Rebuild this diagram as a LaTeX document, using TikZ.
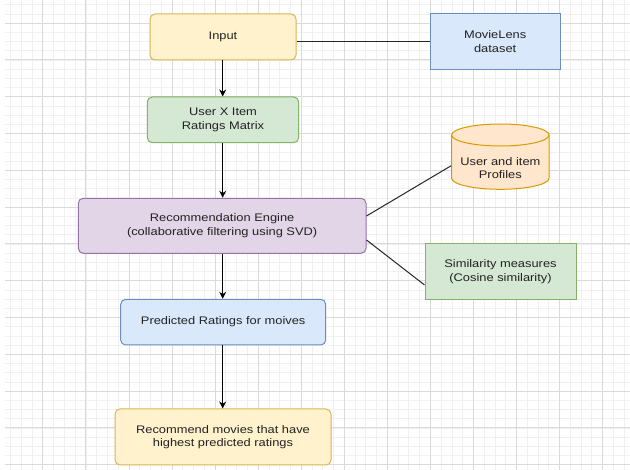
\documentclass[tikz,border=0pt]{standalone}
\usepackage{fontspec}
\setmainfont{Liberation Sans}[FakeStretch=1.17]
\usetikzlibrary{arrows.meta,calc}
\definecolor{yelF}{HTML}{FFF2CC}\definecolor{yelD}{HTML}{D6B656}
\definecolor{grnF}{HTML}{D5E8D4}\definecolor{grnD}{HTML}{82B366}
\definecolor{purF}{HTML}{E1D5E7}\definecolor{purD}{HTML}{9673A6}
\definecolor{bluF}{HTML}{DAE8FC}\definecolor{bluD}{HTML}{6C8EBF}
\definecolor{orgF}{HTML}{FFE6CC}\definecolor{orgD}{HTML}{D79B00}
\definecolor{gridMaj}{HTML}{DADADA}\definecolor{gridMin}{HTML}{F0F0F0}
\definecolor{txt}{HTML}{222222}
\begin{document}
\begin{tikzpicture}[x=1pt,y=-1pt,
  every node/.style={font=\fontsize{11}{13.3}\selectfont, text=txt, align=center, inner sep=0pt},
  boxbase/.style={draw, line width=1pt},
  rbox/.style={boxbase, rounded corners=5pt},
  yel/.style={fill=yelF, draw=yelD},
  grn/.style={fill=grnF, draw=grnD},
  pur/.style={fill=purF, draw=purD},
  blu/.style={fill=bluF, draw=bluD},
  arr/.style={draw=black, line width=1pt, -{Stealth[length=7pt,width=7pt]}},
  lnk/.style={draw=black!85, line width=1pt}]
\useasboundingbox (0,0) rectangle (630,470);
\fill[white] (0,0) rectangle (630,470);
% grid
\foreach \k in {0,...,57} \draw[gridMin, line width=0.5pt] ({10.4+10.765*\k},0) -- ({10.4+10.765*\k},470);
\foreach \k in {0,...,50} \draw[gridMin, line width=0.5pt] (5,{4.6+9.2*\k}) -- (630,{4.6+9.2*\k});
\foreach \k in {0,...,13} \draw[gridMaj, line width=0.6pt] ({42.7+43.06*\k},0) -- ({42.7+43.06*\k},470);
\foreach \k in {0,...,12} \draw[gridMaj, line width=0.6pt] (5,{23+36.8*\k}) -- (630,{23+36.8*\k});
% nodes
\node[rbox, yel, minimum width=146pt, minimum height=46pt] (input) at (223,37) {Input};
\node[boxbase, blu, minimum width=129.7pt, minimum height=55.3pt] (ml) at (495.15,41.65) {MovieLens\\dataset};
\node[rbox, grn, minimum width=151.4pt, minimum height=45.7pt] (uxi) at (223,119.85) {User X Item\\Ratings Matrix};
\node[rbox, pur, minimum width=287.7pt, minimum height=55pt] (rec) at (222.15,225.8) {Recommendation Engine\\(collaborative filtering using SVD)};
\node[boxbase, grn, minimum width=151pt, minimum height=55.3pt] (sim) at (500.5,271.65) {Similarity measures\\(Cosine similarity)};
\node[rbox, blu, minimum width=205pt, minimum height=45.7pt] (pred) at (223.2,322.15) {Predicted Ratings for moives};
\node[rbox, yel, minimum width=216pt, minimum height=56pt] (recm) at (223,437) {Recommend movies that have\\highest predicted ratings};
% cylinder
\fill[orgF] (451.7,135) -- (451.7,178.3) arc[start angle=180, end angle=360, x radius=48.65, y radius=-11] -- (549,135) -- cycle;
\draw[orgD, line width=1pt] (451.7,135) -- (451.7,178.3) arc[start angle=180, end angle=360, x radius=48.65, y radius=-11] -- (549,135);
\draw[orgD, fill=orgF, line width=1pt] (500.35,135) ellipse[x radius=48.65, y radius=11];
\node[minimum width=97.3pt, minimum height=43pt] (prof) at (500.35,168) {User and item\\Profiles};
% connectors
\draw[lnk] (input.east |- ml.west) -- (ml.west);
\draw[arr] (input.south -| 222.7,0) -- (uxi.north -| 222.7,0);
\draw[arr] (uxi.south -| 222.7,0) -- (rec.north -| 222.7,0);
\draw[arr] (rec.south -| 222.7,0) -- (pred.north -| 222.7,0);
\draw[arr] (pred.south -| 222.7,0) -- (recm.north -| 222.7,0);
\draw[lnk] ([yshift=9.8pt]rec.east) -- ([xshift=-0.3pt,yshift=2.3pt]prof.west);
\draw[lnk] ([yshift=-14.2pt]rec.east) -- ([yshift=-13.3pt]sim.west);
\end{tikzpicture}
\end{document}
